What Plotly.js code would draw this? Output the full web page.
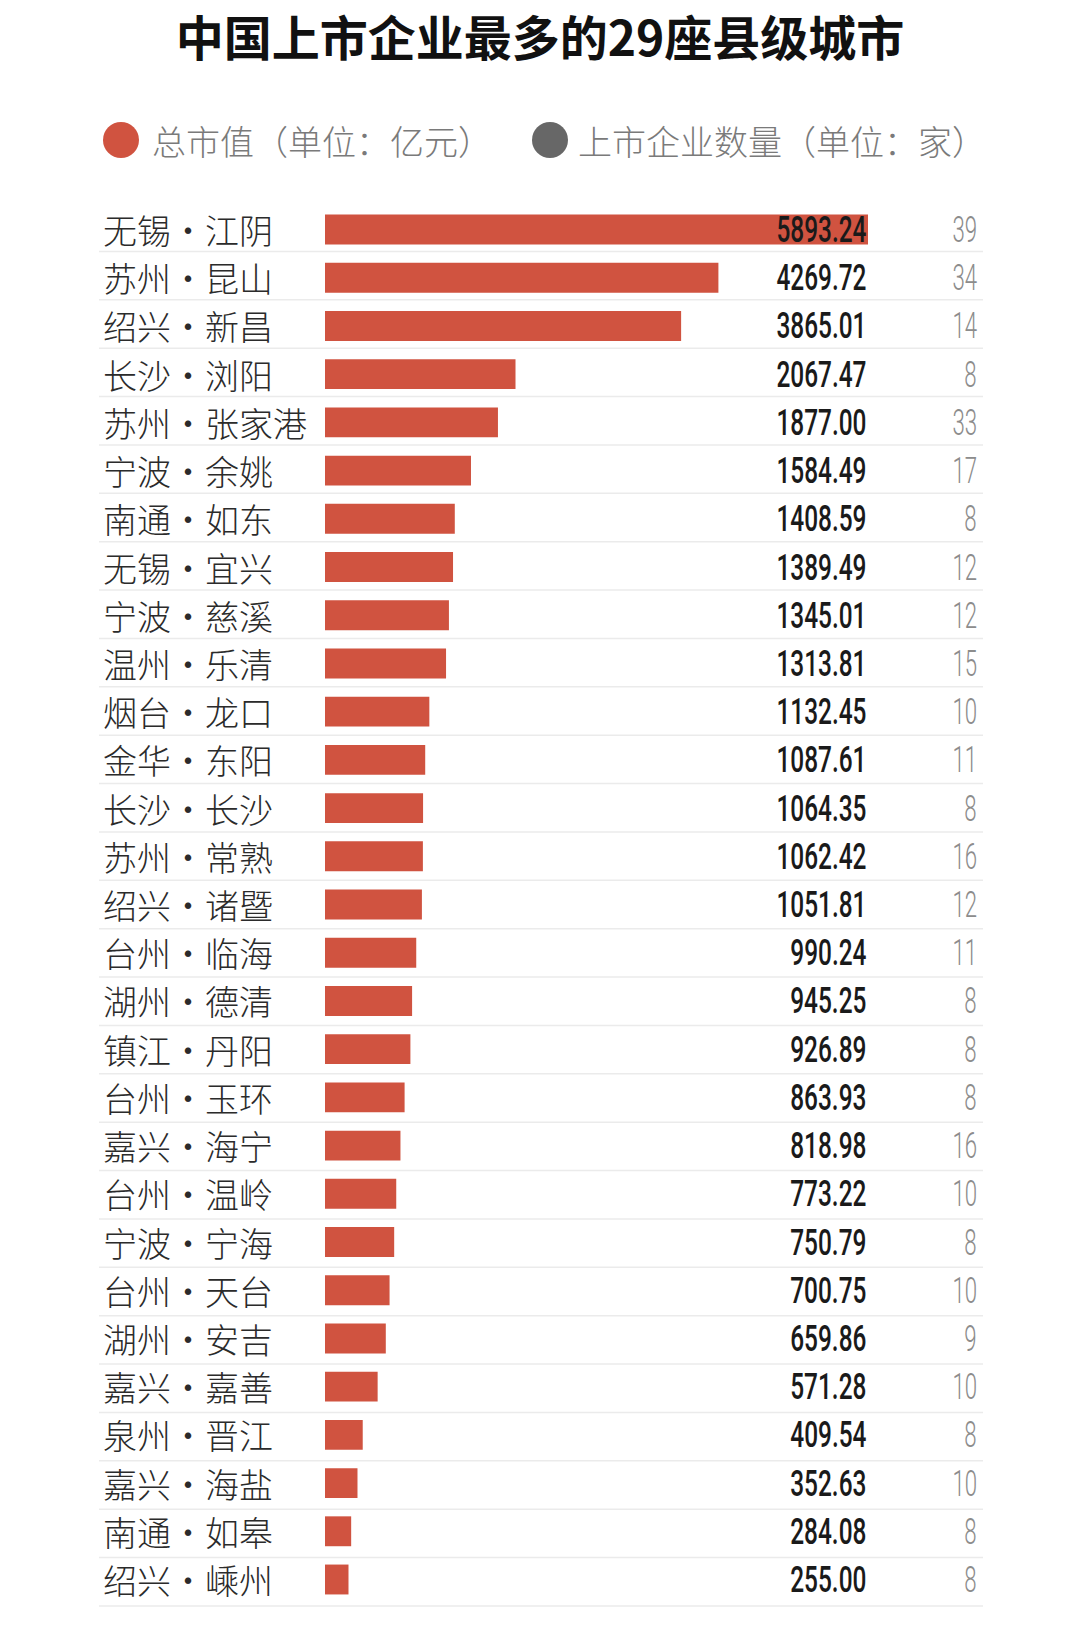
<!DOCTYPE html>
<html>
<head>
<meta charset="utf-8">
<script src="https://cdn.plot.ly/plotly-3.0.1.min.js"></script>
<style>
  html, body { margin: 0; padding: 0; background: #fff; }
  #chart { width: 1080px; height: 1626px; }
</style>
</head>
<body>
<div id="chart"></div>
<script>
// data
var cities = ['无锡·江阴', '苏州·昆山', '绍兴·新昌', '长沙·浏阳', '苏州·张家港',
  '宁波·余姚', '南通·如东', '无锡·宜兴', '宁波·慈溪', '温州·乐清',
  '烟台·龙口', '金华·东阳', '长沙·长沙', '苏州·常熟', '绍兴·诸暨',
  '台州·临海', '湖州·德清', '镇江·丹阳', '台州·玉环', '嘉兴·海宁',
  '台州·温岭', '宁波·宁海', '台州·天台', '湖州·安吉', '嘉兴·嘉善',
  '泉州·晋江', '嘉兴·海盐', '南通·如皋', '绍兴·嵊州'];
var marketCap = [5893.24, 4269.72, 3865.01, 2067.47, 1877.00,
  1584.49, 1408.59, 1389.49, 1345.01, 1313.81,
  1132.45, 1087.61, 1064.35, 1062.42, 1051.81,
  990.24, 945.25, 926.89, 863.93, 818.98,
  773.22, 750.79, 700.75, 659.86, 571.28,
  409.54, 352.63, 284.08, 255.00];
var companies = [39, 34, 14, 8, 33, 17, 8, 12, 12, 15, 10, 11, 8, 16, 12,
  11, 8, 8, 8, 16, 10, 8, 10, 9, 10, 8, 10, 8, 8];
var legendLabels = ['总市值（单位：亿元）', '上市企业数量（单位：家）'];

var RED = '#d05340';
var GREY = '#676767';
var CJK = '"Noto Sans CJK SC", sans-serif';
var NUM = 'Roboto, "DejaVu Sans", sans-serif';

// plot box in pixels, used to place the decorations in paper units
var L = 325, R = 868, T = 203, B = 1606;
function px(x) { return (x - L) / (R - L); }
function py(y) { return (B - y) / (B - T); }

var n = cities.length;
var maxVal = Math.max.apply(null, marketCap);

var trace = {
  type: 'bar',
  orientation: 'h',
  x: marketCap,
  y: cities,
  marker: { color: RED },
  hoverinfo: 'x+y'
};

var annotations = [];
var shapes = [];
var squeeze = {};   // annotation index -> horizontal squeeze, fakes a condensed face

cities.forEach(function (c, i) {
  annotations.push({
    xref: 'paper', yref: 'y', x: px(101), y: c, xanchor: 'left', yanchor: 'middle',
    text: c, showarrow: false, font: { family: CJK, size: 34, color: '#2b2b2b', weight: 300 }
  });
  squeeze[annotations.length] = 0.66;
  annotations.push({
    xref: 'x', yref: 'y', x: maxVal, y: c, xanchor: 'right', yanchor: 'middle',
    text: marketCap[i].toFixed(2), showarrow: false,
    font: { family: NUM, size: 37, color: '#1a1a1a', weight: 500 }
  });
  squeeze[annotations.length] = 0.6;
  annotations.push({
    xref: 'paper', yref: 'y', x: px(979), y: c, xanchor: 'right', yanchor: 'middle',
    text: String(companies[i]), showarrow: false,
    font: { family: NUM, size: 37, color: '#8c8c8c', weight: 300 }
  });
  var yb = 1 - (i + 1) / n;
  shapes.push({
    type: 'line', xref: 'paper', yref: 'paper', x0: px(99), x1: px(983), y0: yb, y1: yb,
    line: { color: '#ebebeb', width: 1.5 }, layer: 'below'
  });
});

// legend
var legendY = py(140);
[[121, RED, 150, legendLabels[0]], [550, GREY, 576, legendLabels[1]]].forEach(function (d) {
  shapes.push({
    type: 'circle', xref: 'paper', yref: 'paper',
    xsizemode: 'pixel', ysizemode: 'pixel', xanchor: px(d[0]), yanchor: legendY,
    x0: -18, x1: 18, y0: -18, y1: 18,
    fillcolor: d[1], line: { width: 0 }
  });
  annotations.push({
    xref: 'paper', yref: 'paper', x: px(d[2]), y: legendY, xanchor: 'left', yanchor: 'middle',
    text: d[3], showarrow: false, font: { family: CJK, size: 34, color: '#7a7a7a', weight: 300 }
  });
});

var layout = {
  width: 1080,
  height: 1626,
  margin: { l: L, r: 1080 - R, t: T, b: 1626 - B, pad: 0 },
  paper_bgcolor: '#ffffff',
  plot_bgcolor: '#ffffff',
  showlegend: false,
  title: {
    text: '中国上市企业最多的29座县级城市',
    x: 0.5, xref: 'container', xanchor: 'center',
    y: 1 - 39 / 1626, yref: 'container', yanchor: 'middle',
    font: { family: CJK, size: 48, color: '#111111', weight: 700 }
  },
  bargap: 0.38,
  xaxis: {
    range: [0, maxVal],
    visible: false,
    fixedrange: true
  },
  yaxis: {
    autorange: 'reversed',
    showticklabels: false,
    showgrid: false,
    zeroline: false,
    ticks: '',
    fixedrange: true
  },
  annotations: annotations,
  shapes: shapes
};

Plotly.newPlot('chart', [trace], layout, { displayModeBar: false, staticPlot: true }).then(function () {
  Object.keys(squeeze).forEach(function (k) {
    var t = document.querySelector('#chart .annotation[data-index="' + k + '"] text');
    if (!t) return;
    t.style.transformBox = 'fill-box';
    t.style.transformOrigin = 'right center';
    t.style.transform = 'scaleX(' + squeeze[k] + ')';
  });
});
</script>
</body>
</html>
